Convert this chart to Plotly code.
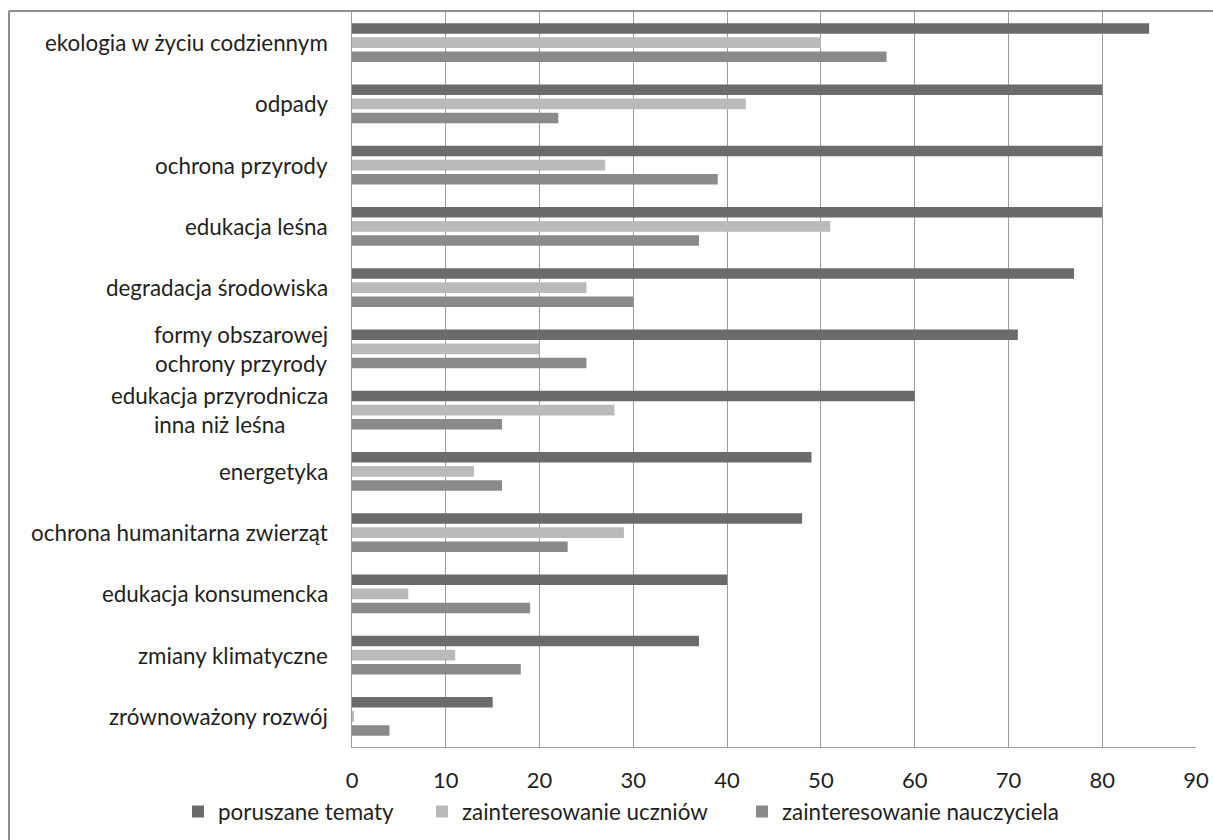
import plotly.graph_objects as go

categories = [
    "ekologia w życiu codziennym",
    "odpady",
    "ochrona przyrody",
    "edukacja leśna",
    "degradacja środowiska",
    "formy obszarowej<br>ochrony przyrody",
    "edukacja przyrodnicza<br>inna niż leśna",
    "energetyka",
    "ochrona humanitarna zwierząt",
    "edukacja konsumencka",
    "zmiany klimatyczne",
    "zrównoważony rozwój",
]
series_names = ["poruszane tematy", "zainteresowanie uczniów", "zainteresowanie nauczyciela"]
poruszane = [85, 80, 80, 80, 77, 71, 60, 49, 48, 40, 37, 15]
uczniow = [50, 42, 27, 51, 25, 20, 28, 13, 29, 6, 11, 0.2]
nauczyciela = [57, 22, 39, 37, 30, 25, 16, 16, 23, 19, 18, 4]
x_ticks = [0, 10, 20, 30, 40, 50, 60, 70, 80, 90]

colors = ["#6b6b6b", "#bababa", "#8a8a8a"]
FONT = "Lato"
FS = 22.4
TXT = "#1f1f1f"
W, H = 1213, 840
L, T = 352, 12
R = W - 1196
B = H - 747
pw = W - L - R
ph = H - T - B


def px(sx):
    return (sx - L) / pw


def py(sy):
    return (H - B - sy) / ph


legend_names = ["legend", "legend2", "legend3"]
legend_marker_x = [193, 437, 757]

fig = go.Figure()
for name, vals, col, lg in zip(series_names, [poruszane, uczniow, nauczyciela], colors, legend_names):
    fig.add_trace(go.Bar(
        y=categories, x=vals, name=name, orientation="h",
        marker=dict(color=col, line=dict(width=0)), legend=lg,
    ))

for c in categories:
    fig.add_annotation(
        x=0, xref="paper", y=c, yref="y", text=c, showarrow=False,
        xanchor="right", yanchor="middle", align="center", xshift=-22,
        font=dict(family=FONT, size=FS, color=TXT),
    )

# chart area border (left and top)
fig.add_shape(type="line", xref="paper", yref="paper", x0=px(9), x1=px(1230), y0=py(11), y1=py(11),
              line=dict(color="#8e8e8e", width=2), layer="above")
fig.add_shape(type="line", xref="paper", yref="paper", x0=px(9), x1=px(9), y0=py(11), y1=py(860),
              line=dict(color="#8e8e8e", width=2), layer="above")

legend_common = dict(orientation="h", xanchor="left", yanchor="middle",
                     yref="container", y=(H - 812) / H,
                     font=dict(family=FONT, size=FS, color=TXT), bgcolor="rgba(0,0,0,0)",
                     itemwidth=30)

fig.update_layout(
    width=W, height=H,
    margin=dict(l=L, r=R, t=T, b=B, autoexpand=False),
    paper_bgcolor="white", plot_bgcolor="white",
    barmode="group", bargap=0.314, bargroupgap=0.25,
    font=dict(family=FONT, size=FS, color=TXT),
    xaxis=dict(range=[0, 90], tickvals=x_ticks, showgrid=True, gridcolor="#9d9d9d", gridwidth=1,
               zeroline=False, showline=True, linecolor="#9d9d9d", linewidth=1,
               ticks="", tickfont=dict(family=FONT, size=22, color=TXT),
               ticklabelstandoff=14, ticklabeloverflow="allow"),
    yaxis=dict(autorange="reversed", showticklabels=False, showgrid=False, zeroline=False,
               showline=True, linecolor="#9d9d9d", linewidth=1, ticks=""),
    legend=dict(xref="container", x=(legend_marker_x[0] - 15) / W, **legend_common),
    legend2=dict(xref="container", x=(legend_marker_x[1] - 15) / W, **legend_common),
    legend3=dict(xref="container", x=(legend_marker_x[2] - 15) / W, **legend_common),
    showlegend=True,
)

fig.write_html(
    "out.html",
    config={"displayModeBar": False},
    post_script="document.body.style.margin='0';document.body.style.overflow='hidden';",
)
